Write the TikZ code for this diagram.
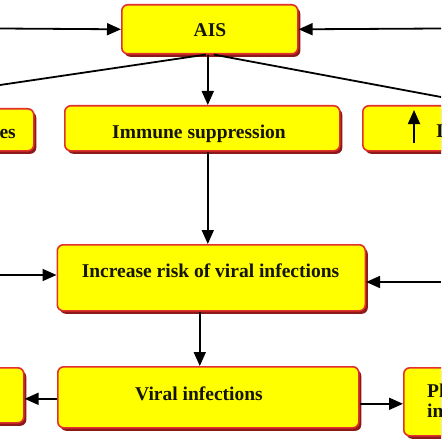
\documentclass[tikz,border=0pt]{standalone}
\usepackage{fontspec}
\setmainfont{Liberation Serif}
\usetikzlibrary{arrows.meta,shadows,calc}
\definecolor{boxfill}{HTML}{FFFF00}
\definecolor{boxline}{HTML}{E2302C}
\definecolor{boxshadow}{HTML}{8C1A1A}
\definecolor{txt}{HTML}{151505}
\tikzset{
  box/.style={draw=boxline, fill=boxfill, line width=1.6pt, rounded corners=6pt,
    inner sep=0pt, anchor=north west,
    drop shadow={shadow xshift=2.5pt, shadow yshift=-3pt, fill=boxshadow, opacity=1}},
  lbl/.style={text=txt, font=\bfseries\fontsize{19.5}{22}\selectfont, inner sep=0pt},
  arr/.style={line width=1.8pt, -{Triangle[length=14pt,width=12pt]}},
  ln/.style={line width=1.8pt}
}
\begin{document}
\begin{tikzpicture}[x=1pt,y=-1pt]
\useasboundingbox (0,0) rectangle (441,441);
\fill[white] (0,0) rectangle (441,441);
\clip (0,0) rectangle (441,441);
% boxes
\node[box, minimum width=176pt, minimum height=49pt] (ais) at (121,4) {};
\node[box, minimum width=63pt, minimum height=42pt] (lb2) at (-30,108) {};
\node[box, minimum width=275pt, minimum height=45pt] (imm) at (64,105) {};
\node[box, minimum width=110pt, minimum height=45pt] (rb2) at (362,105) {};
\node[box, minimum width=308pt, minimum height=66pt] (inc) at (56.5,244) {};
\node[box, minimum width=53pt, minimum height=55pt] (bl) at (-30,367) {};
\node[box, minimum width=301pt, minimum height=61pt] (vir) at (57,366) {};
\node[box, minimum width=80pt, minimum height=68pt] (br) at (403,367) {};
% texts
\node[lbl, anchor=base] (tais) at (210,37) {AIS};
\node[lbl, anchor=base east] (tlb2) at (16,138) {es};
\node[lbl, anchor=base] (timm) at (199,138) {Immune suppression};
\node[lbl, anchor=base west] (trb2) at (436,137) {I};
\node[lbl, anchor=base] (tinc) at (210.5,277) {Increase risk of viral infections};
\node[lbl, anchor=base] (tvir) at (199,400) {Viral infections};
\node[lbl, anchor=base west] (tbr1) at (427,397) {Ph};
\node[lbl, anchor=base west] (tbr2) at (427,417) {in};
% free ends at the edges
\coordinate (eL1) at (0,28.5);
\coordinate (eR1) at (441,28.5);
\coordinate (eL2) at (0,85);
\coordinate (eR2) at (441,97);
\coordinate (eL3) at (0,275);
\coordinate (eR3) at (441,282);
\coordinate (upB) at (414,143);
\coordinate (upT) at (414,110);
% connectors
\draw[arr] (eL1) -- (ais.west);
\draw[arr] (eR1) -- (ais.east);
\draw[ln] ([xshift=-4pt]ais.south) -- (eL2);
\draw[ln] ([xshift=4pt]ais.south) -- (eR2);
\draw[arr] ([xshift=-2pt]ais.south) -- ([xshift=-2pt]ais.south |- imm.north);
\draw[arr] ([xshift=-2pt]ais.south |- imm.south) -- ([xshift=-2pt]ais.south |- inc.north);
\draw[arr] (eL3) -- (eL3 -| inc.west);
\draw[arr] (eR3) -- (eR3 -| inc.east);
\draw[arr] ([xshift=-11.5pt]inc.south) -- ([xshift=-11.5pt]inc.south |- vir.north);
\draw[arr] ([yshift=-1.5pt]vir.west) -- ([yshift=-1.5pt]vir.west -| bl.east);
\draw[arr] ([yshift=-6.5pt]vir.east) -- ([yshift=-6.5pt]vir.east -| br.west);
\draw[arr] (upB) -- (upT);
\end{tikzpicture}
\end{document}
